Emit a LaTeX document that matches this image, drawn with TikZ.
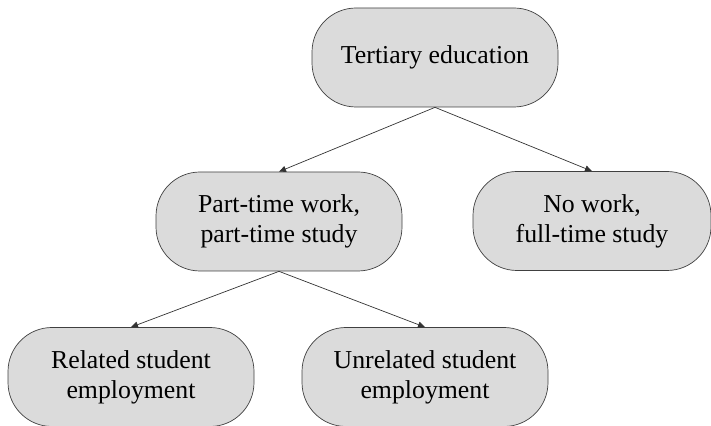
\documentclass[tikz,border=0pt]{standalone}
\usepackage{fontspec}
\setmainfont{Liberation Serif}
\usepackage{tikz}
\usetikzlibrary{arrows.meta,positioning,shapes}

\begin{document}
\begin{tikzpicture}[x=1pt,y=1pt,
  stage/.style={draw=black!75, line width=0.7pt, fill=black!14, rectangle, rounded corners=44pt,
    minimum width=246pt, minimum height=99pt, inner sep=0pt, align=center,
    font=\fontsize{25.8}{30}\selectfont},
  link/.style={-{Triangle[length=7pt,width=6pt]}, line width=0.7pt, black!80}]
\useasboundingbox (0,0) rectangle (711,425);
% Top level
\node[stage] (tertiary) at (435,367.5) {Tertiary education};

% Second level
\node[stage] (parttime) at (279,203.5) {Part-time work,\\part-time study};
\node[stage, minimum width=238pt] (nowork) at (592,204) {No work,\\full-time study};

% Third level
\node[stage] (related) at (131,48) {Related student\\employment};
\node[stage] (unrelated) at (425,48) {Unrelated student\\employment};

\draw[link] (tertiary.south) -- (parttime.north);
\draw[link] (tertiary.south) -- (nowork.north);
\draw[link] (parttime.south) -- (related.north);
\draw[link] (parttime.south) -- (unrelated.north);
\end{tikzpicture}
\end{document}
